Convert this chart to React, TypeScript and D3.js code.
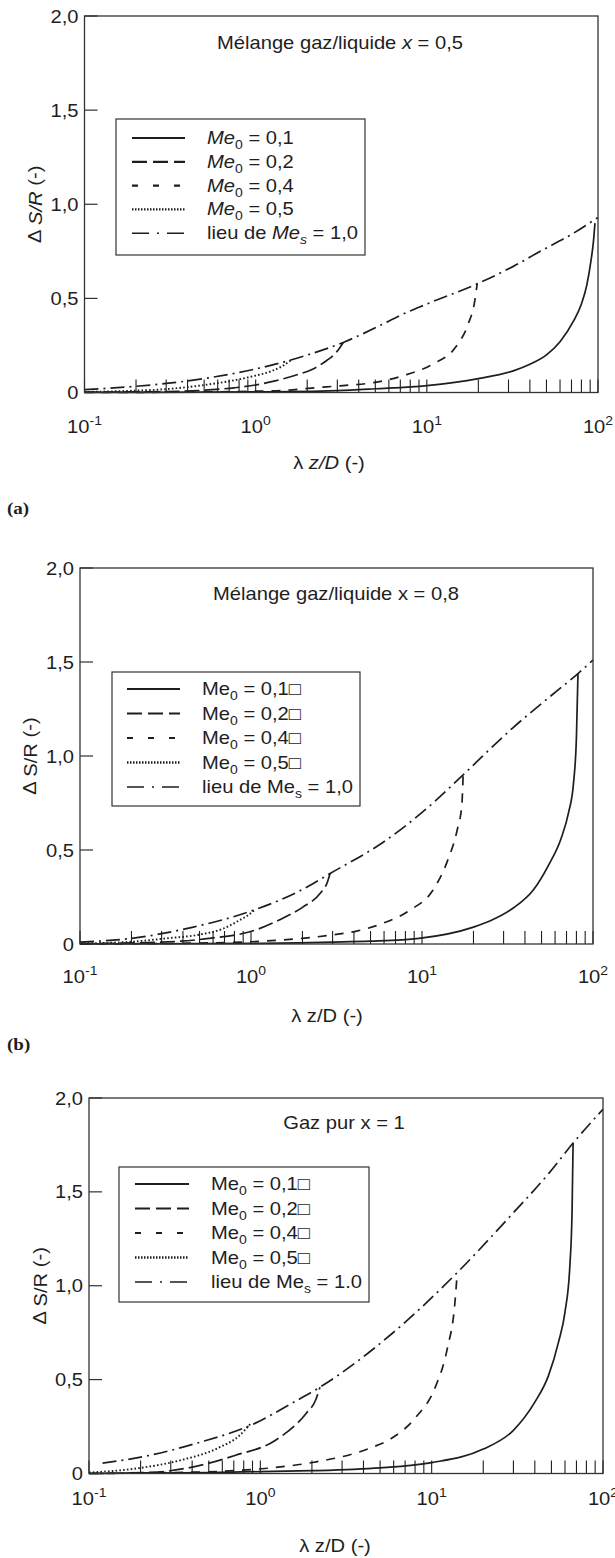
import React from 'react';
import * as d3 from 'd3';

type Pt = [number, number];

// ---------- shared axis data ----------
const X_DOMAIN: [number, number] = [0.1, 100];
const Y_DOMAIN: [number, number] = [0, 2];
const Y_TICKS = [0, 0.5, 1, 1.5, 2];
const Y_TICK_LABELS = ['0', '0,5', '1,0', '1,5', '2,0'];
const X_DECADES = [0.1, 1, 10, 100];
const X_DECADE_EXP = ['-1', '0', '1', '2'];
const ME0_VALUES = ['0,1', '0,2', '0,4', '0,5'];

// ---------- panel (a) : x = 0,5 ----------
const A_LOCUS: Pt[] = [[0.1, 0.015], [0.2, 0.033], [0.3, 0.048], [0.55, 0.08], [1, 0.125], [1.8, 0.186], [2.1, 0.205], [3.25, 0.266], [5.3, 0.355], [7, 0.41], [10, 0.47], [20, 0.58], [32, 0.67], [46, 0.75], [70, 0.84], [100, 0.93]];
const A_ME01: Pt[] = [[0.1, 0], [1, 0.003], [3, 0.01], [5, 0.02], [10, 0.037], [20, 0.074], [32, 0.115], [40, 0.15], [50, 0.2], [60, 0.27], [72, 0.38], [80, 0.47], [86, 0.57], [91, 0.7], [94, 0.8], [96, 0.9]];
const A_ME02: Pt[] = [[0.1, 0], [0.5, 0.003], [1, 0.007], [1.5, 0.012], [2.2, 0.025], [3.25, 0.037], [5.1, 0.055], [7.3, 0.09], [11, 0.154], [14.7, 0.24], [17.5, 0.367], [19, 0.48], [19.7, 0.58]];
const A_ME04: Pt[] = [[0.1, 0.002], [0.3, 0.005], [0.5, 0.012], [0.75, 0.025], [1, 0.04], [1.3, 0.062], [1.8, 0.098], [2.1, 0.12], [2.6, 0.17], [3.0, 0.22], [3.25, 0.266]];
const A_ME05: Pt[] = [[0.1, 0.003], [0.2, 0.01], [0.3, 0.018], [0.55, 0.045], [0.75, 0.065], [1.0, 0.09], [1.25, 0.115], [1.45, 0.143], [1.6, 0.17]];

// ---------- panel (b) : x = 0,8 ----------
const B_LOCUS: Pt[] = [[0.1, 0.01], [0.2, 0.03], [0.46, 0.09], [1, 0.175], [2, 0.29], [2.9, 0.375], [5.9, 0.54], [11.6, 0.75], [17.4, 0.9], [34, 1.15], [55, 1.31], [82, 1.44], [100, 1.51]];
const B_ME01: Pt[] = [[0.1, 0], [1, 0.003], [3, 0.01], [5, 0.015], [9.6, 0.03], [20, 0.09], [26, 0.13], [34, 0.19], [45, 0.29], [55, 0.42], [65, 0.56], [72, 0.7], [77, 0.86], [80, 1.1], [81.7, 1.44]];
const B_ME02: Pt[] = [[0.1, 0], [0.5, 0.005], [1, 0.012], [2, 0.03], [2.8, 0.045], [4.2, 0.07], [5.9, 0.11], [8.5, 0.18], [11.6, 0.287], [14.2, 0.45], [16, 0.6], [17.1, 0.74], [17.4, 0.9]];
const B_ME04: Pt[] = [[0.1, 0.002], [0.3, 0.01], [0.57, 0.03], [1.07, 0.075], [1.46, 0.128], [2.0, 0.195], [2.54, 0.27], [2.8, 0.33], [2.9, 0.375]];
const B_ME05: Pt[] = [[0.1, 0.003], [0.2, 0.012], [0.32, 0.03], [0.5, 0.05], [0.68, 0.08], [0.85, 0.125], [1.0, 0.165], [1.05, 0.182]];

// ---------- panel (c) : gaz pur x = 1 ----------
const C_LOCUS: Pt[] = [[0.12, 0.055], [0.224, 0.096], [0.42, 0.16], [0.93, 0.267], [1.5, 0.37], [2.23, 0.46], [5.9, 0.747], [14.1, 1.07], [28.7, 1.37], [48.4, 1.6], [66.9, 1.76], [100, 1.94]];
const C_ME01: Pt[] = [[0.1, 0], [0.5, 0.005], [1, 0.01], [2, 0.015], [3.5, 0.022], [5, 0.03], [10, 0.058], [20, 0.13], [30, 0.23], [40, 0.38], [48, 0.52], [55, 0.7], [60, 0.86], [64, 1.1], [66, 1.4], [66.9, 1.76]];
const C_ME02: Pt[] = [[0.1, 0], [0.3, 0.005], [0.6, 0.012], [1.22, 0.032], [2.06, 0.06], [4.3, 0.133], [5.9, 0.19], [8.1, 0.3], [10.5, 0.46], [12.3, 0.66], [13.7, 0.92], [14.1, 1.07]];
const C_ME04: Pt[] = [[0.1, 0], [0.25, 0.008], [0.38, 0.03], [0.71, 0.096], [1.22, 0.176], [1.85, 0.32], [2.1, 0.39], [2.23, 0.46]];
const C_ME05: Pt[] = [[0.1, 0.005], [0.19, 0.027], [0.34, 0.07], [0.58, 0.14], [0.75, 0.2], [0.88, 0.267]];

// ---------- styling ----------
const FONT = "'Liberation Sans', Arial, Helvetica, sans-serif";
const SX = 1.12;
const INK = '#1e1e1e';
const CURVE_DASH = { solid: undefined as string | undefined, medium: '9,8', long: '15,5', dotted: '1.6,2.2', dashdot: '14,5,2,5' };
const LEGEND_DASH = [undefined, '15,6', '6,15', '1.5,1.5', '17,8,2,8'];

function Txt(props: any) {
  const { x, y, anchor = 'start', size = 18, rotate, children, italic, weight, family, baseline } = props;
  const tr = `translate(${x},${y})${rotate ? ` rotate(${rotate})` : ''} scale(${SX},1)`;
  return (
    <text transform={tr} textAnchor={anchor} fontSize={size} fontFamily={family || FONT}
      fontStyle={italic ? 'italic' : undefined} fontWeight={weight} fill={INK}
      dominantBaseline={baseline} xmlSpace="preserve">
      {children}
    </text>
  );
}

type PanelCfg = {
  left: number; right: number; top: number; bottom: number;
  italic: boolean; box: boolean; locusValue: string;
  title: React.ReactNode; titleX: number; titleY: number;
  yLabelX: number; xLabelX: number; xLabelY: number; tickLabelY: number;
  legend: { x: number; y: number; w: number; h: number; row0: number; dy: number; s1: number; s2: number; tx: number };
  curves: { data: Pt[]; dash: string | undefined; width: number }[];
};

function Panel({ cfg }: { cfg: PanelCfg }) {
  const xs = d3.scaleLog().domain(X_DOMAIN).range([cfg.left, cfg.right]);
  const ys = d3.scaleLinear().domain(Y_DOMAIN).range([cfg.bottom, cfg.top]);
  const line = d3.line<Pt>().x(d => xs(d[0])).y(d => ys(d[1])).curve(d3.curveMonotoneX);
  const minor = xs.ticks();
  const it = cfg.italic;
  const L = cfg.legend;
  const meLabel = (v: string, i: number) => (
    <Txt key={i} x={L.tx} y={L.row0 + i * L.dy + 6}>
      <tspan fontStyle={it ? 'italic' : 'normal'}>Me</tspan>
      <tspan dy={5} fontSize={12.5}>0</tspan>
      <tspan dy={-5}>{` = ${v}`}</tspan>
      {cfg.box ? <tspan>{'\u25A1'}</tspan> : null}
    </Txt>
  );
  return (
    <g>
      {cfg.curves.map((c, i) => (
        <path key={i} d={line(c.data) || ''} fill="none" stroke={INK} strokeWidth={c.width}
          strokeDasharray={c.dash} strokeLinecap="butt" />
      ))}
      {minor.map((t, i) => (
        <line key={i} x1={xs(t)} x2={xs(t)} y1={cfg.bottom} y2={cfg.bottom - 13} stroke={INK} strokeWidth={1.1} />
      ))}
      {Y_TICKS.map((t, i) => (
        <line key={i} x1={cfg.left} x2={cfg.left + 13} y1={ys(t)} y2={ys(t)} stroke={INK} strokeWidth={1.1} />
      ))}
      <rect x={cfg.left} y={cfg.top} width={cfg.right - cfg.left} height={cfg.bottom - cfg.top}
        fill="none" stroke="#333" strokeWidth={1.3} />
      {Y_TICKS.map((t, i) => (
        <Txt key={i} x={cfg.left - 6} y={ys(t) + 6.5} anchor="end">{Y_TICK_LABELS[i]}</Txt>
      ))}
      {X_DECADES.map((t, i) => (
        <Txt key={i} x={xs(t)} y={cfg.tickLabelY} anchor="middle">
          10<tspan dy={-8} fontSize={12.5}>{X_DECADE_EXP[i]}</tspan>
        </Txt>
      ))}
      <Txt x={cfg.yLabelX} y={(cfg.top + cfg.bottom) / 2} anchor="middle" rotate={-90} baseline="central">
        {'\u0394 '}<tspan fontStyle={it ? 'italic' : 'normal'}>S/R</tspan>{' (-)'}
      </Txt>
      <Txt x={cfg.xLabelX} y={cfg.xLabelY} anchor="middle">
        {'\u03BB '}<tspan fontStyle={it ? 'italic' : 'normal'}>z/D</tspan>{' (-)'}
      </Txt>
      <Txt x={cfg.titleX} y={cfg.titleY} anchor="middle">{cfg.title}</Txt>
      <rect x={L.x} y={L.y} width={L.w} height={L.h} fill="white" stroke="#333" strokeWidth={1.2} />
      {LEGEND_DASH.map((d, i) => (
        <line key={i} x1={L.s1} x2={L.s2} y1={L.row0 + i * L.dy} y2={L.row0 + i * L.dy}
          stroke={INK} strokeWidth={i === 3 ? 2.4 : i === 4 ? 1.6 : 2.2} strokeDasharray={d} />
      ))}
      {ME0_VALUES.map((v, i) => meLabel(v, i))}
      <Txt x={L.tx} y={L.row0 + 4 * L.dy + 6}>
        {'lieu de '}<tspan fontStyle={it ? 'italic' : 'normal'}>Me</tspan>
        <tspan dy={5} fontSize={12.5} fontStyle={it ? 'italic' : 'normal'}>s</tspan>
        <tspan dy={-5}>{` = ${cfg.locusValue}`}</tspan>
      </Txt>
    </g>
  );
}

const curveSet = (locus: Pt[], m1: Pt[], m2: Pt[], m4: Pt[], m5: Pt[]) => [
  { data: locus, dash: CURVE_DASH.dashdot, width: 1.7 },
  { data: m1, dash: CURVE_DASH.solid, width: 1.7 },
  { data: m2, dash: CURVE_DASH.medium, width: 1.7 },
  { data: m4, dash: CURVE_DASH.long, width: 1.7 },
  { data: m5, dash: CURVE_DASH.dotted, width: 1.9 },
];

const PANEL_A: PanelCfg = {
  left: 84.5, right: 598, top: 16, bottom: 392.5, italic: true, box: false, locusValue: '1,0',
  title: <>{'M\u00E9lange gaz/liquide '}<tspan fontStyle="italic">x</tspan>{' = 0,5'}</>,
  titleX: 340, titleY: 49, yLabelX: 35, xLabelX: 329, xLabelY: 469, tickLabelY: 433,
  legend: { x: 116, y: 119, w: 249, h: 136, row0: 138, dy: 23.8, s1: 132, s2: 185, tx: 207 },
  curves: curveSet(A_LOCUS, A_ME01, A_ME02, A_ME04, A_ME05),
};

const PANEL_B: PanelCfg = {
  left: 80, right: 593, top: 568, bottom: 944, italic: false, box: true, locusValue: '1,0',
  title: 'M\u00E9lange gaz/liquide x = 0,8',
  titleX: 336, titleY: 600, yLabelX: 30, xLabelX: 327, xLabelY: 1022, tickLabelY: 983,
  legend: { x: 112, y: 672, w: 248, h: 134, row0: 689, dy: 24.5, s1: 127, s2: 180, tx: 202 },
  curves: curveSet(B_LOCUS, B_ME01, B_ME02, B_ME04, B_ME05),
};

const PANEL_C: PanelCfg = {
  left: 89, right: 603, top: 1098, bottom: 1473.5, italic: false, box: true, locusValue: '1.0',
  title: 'Gaz pur x = 1',
  titleX: 344, titleY: 1129, yLabelX: 40, xLabelX: 335, xLabelY: 1552, tickLabelY: 1505,
  legend: { x: 119, y: 1167, w: 250, h: 135, row0: 1184, dy: 24.5, s1: 135, s2: 189, tx: 211 },
  curves: curveSet(C_LOCUS, C_ME01, C_ME02, C_ME04, C_ME05),
};

export default function App() {
  return (
    <svg width={615} height={1558} viewBox="0 0 615 1558"
      style={{ position: 'absolute', left: 0, top: 0, background: 'white' }}>
      <rect x={0} y={0} width={615} height={1558} fill="white" />
      <Panel cfg={PANEL_A} />
      <Panel cfg={PANEL_B} />
      <Panel cfg={PANEL_C} />
      <Txt x={7} y={514} size={17} weight="bold" family="'Liberation Serif', 'Times New Roman', serif">(a)</Txt>
      <Txt x={7} y={1050} size={17} weight="bold" family="'Liberation Serif', 'Times New Roman', serif">(b)</Txt>
    </svg>
  );
}
